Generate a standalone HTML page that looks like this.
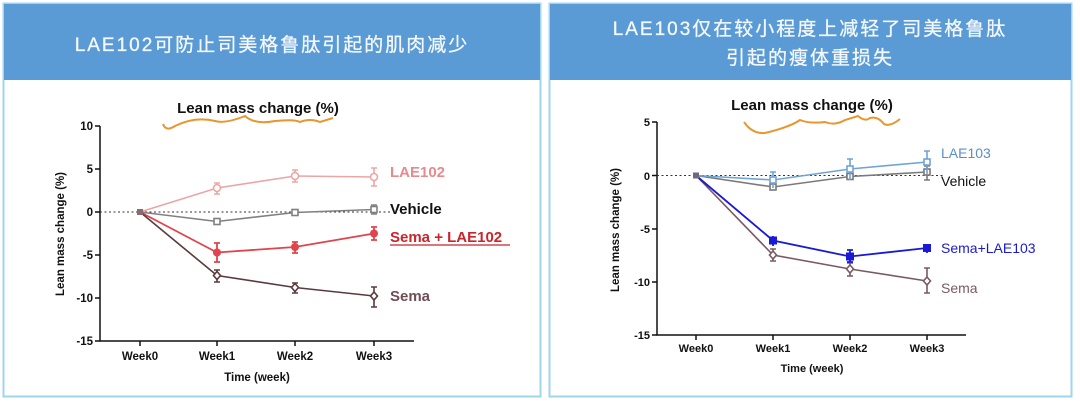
<!DOCTYPE html>
<html><head><meta charset="utf-8"><style>
html,body{margin:0;padding:0;background:#fff;}
svg{display:block;}
text{font-family:"Liberation Sans","Noto Sans CJK SC",sans-serif;}
</style></head><body>
<svg width="1080" height="414" viewBox="0 0 1080 414" xmlns="http://www.w3.org/2000/svg">
<rect width="1080" height="414" fill="#fff"/>
<!-- left panel -->
<rect x="3.5" y="3.5" width="537" height="393" fill="#fff" stroke="#9fd6ec" stroke-width="2"/>
<rect x="4" y="4" width="536" height="76" fill="#5b9bd5"/>
<text x="272" y="51" text-anchor="middle" font-size="19" fill="#f4f8fc" letter-spacing="2" stroke="#f4f8fc" stroke-width="0.3">LAE102可防止司美格鲁肽引起的肌肉减少</text>
<!-- right panel -->
<rect x="549.5" y="3.5" width="522" height="393" fill="#fff" stroke="#9fd6ec" stroke-width="2"/>
<rect x="550" y="4" width="521" height="76" fill="#5b9bd5"/>
<text x="810" y="35" text-anchor="middle" font-size="19" fill="#f4f8fc" letter-spacing="2" stroke="#f4f8fc" stroke-width="0.3">LAE103仅在较小程度上减轻了司美格鲁肽</text>
<text x="810" y="64" text-anchor="middle" font-size="19" fill="#f4f8fc" letter-spacing="2" stroke="#f4f8fc" stroke-width="0.3">引起的瘦体重损失</text>

<!-- LEFT CHART -->
<g>
<text x="258" y="113" text-anchor="middle" font-size="15" font-weight="bold" fill="#111">Lean mass change (%)</text>
<path d="M163 124 Q166 132 175 126 Q195 116 215 121 Q225 124 245 116 Q255 125 275 121 Q295 119 300 122 Q310 118 320 122 L333 118" fill="none" stroke="#e8962e" stroke-width="2"/>
<g stroke="#111" stroke-width="1.5" fill="none">
<path d="M100 126 V341 H414"/>
<path d="M95 126H100M95 169H100M95 212H100M95 255H100M95 298H100M95 341H100"/>
<path d="M140 341V346M217 341V346M295 341V346M374 341V346"/>
</g>
<g font-size="11.5" font-weight="bold" fill="#111" text-anchor="end">
<text x="93" y="130">10</text><text x="93" y="173">5</text><text x="93" y="216">0</text><text x="93" y="259">-5</text><text x="93" y="302">-10</text><text x="93" y="345">-15</text>
</g>
<g font-size="11.5" font-weight="bold" fill="#111" text-anchor="middle">
<text x="140" y="360">Week0</text><text x="217" y="360">Week1</text><text x="295" y="360">Week2</text><text x="374" y="360">Week3</text>
<text x="257" y="381">Time (week)</text>
</g>
<text transform="translate(64,234) rotate(-90)" text-anchor="middle" font-size="11.5" font-weight="bold" fill="#111">Lean mass change (%)</text>
<line x1="100" y1="212" x2="390" y2="212" stroke="#333" stroke-width="1" stroke-dasharray="2,2.5"/>
<!-- LAE102 -->
<g stroke="#eba5a5" stroke-width="1.6" fill="none">
<polyline points="140,212 217,188 295,176 374,177"/>
<path d="M217,183V194M214,183H220M214,194H220M295,170V182M292,170H298M292,182H298M374,168V186M371,168H377M371,186H377"/>
<circle cx="217" cy="188" r="3.5" fill="#fff"/><circle cx="295" cy="176" r="3.5" fill="#fff"/><circle cx="374" cy="177" r="3.5" fill="#fff"/>
</g>
<!-- Vehicle -->
<g stroke="#808080" stroke-width="1.6" fill="none">
<polyline points="140,212 217,221.5 295,212.5 374,209.5"/>
<path d="M374,205V214M371,205H377M371,214H377"/>
<rect x="214" y="218.5" width="6" height="6" fill="#fff"/><rect x="292" y="209.5" width="6" height="6" fill="#fff"/><rect x="371" y="206.5" width="6" height="6" fill="#fff"/>
</g>
<!-- Sema+LAE102 -->
<g stroke="#e0444c" stroke-width="1.8" fill="none">
<polyline points="140,212 217,252.5 295,247 374,233.5"/>
<path d="M217,243V262M214,243H220M214,262H220M295,242V253M292,242H298M292,253H298M374,227V240M371,227H377M371,240H377"/>
</g>
<g fill="#e0444c"><circle cx="217" cy="252.5" r="4"/><circle cx="295" cy="247" r="4"/><circle cx="374" cy="233.5" r="4"/></g>
<!-- Sema -->
<g stroke="#5a3a3e" stroke-width="1.6" fill="none">
<polyline points="140,212 217,275.5 295,287.5 374,296"/>
<path d="M217,270V282M214,270H220M214,282H220M295,283V293M292,283H298M292,293H298M374,287V307M371,287H377M371,307H377"/>
<path d="M217,271.5l3.5,4l-3.5,4l-3.5,-4z" fill="#fff"/><path d="M295,283.5l3.5,4l-3.5,4l-3.5,-4z" fill="#fff"/><path d="M374,292l3.5,4l-3.5,4l-3.5,-4z" fill="#fff"/>
</g>
<rect x="137" y="209" width="6" height="6" fill="#8a6b70"/>
<text x="390" y="177" font-size="15" font-weight="bold" fill="#e8898d">LAE102</text>
<text x="390" y="214" font-size="15" font-weight="bold" fill="#111">Vehicle</text>
<text x="390" y="242" font-size="15" font-weight="bold" fill="#c8252c">Sema + LAE102</text>
<line x1="390" y1="245" x2="510" y2="245" stroke="#c8252c" stroke-width="1.3"/>
<text x="390" y="301" font-size="15" font-weight="bold" fill="#6e4e54">Sema</text>
</g>

<!-- RIGHT CHART -->
<g>
<text x="812" y="110" text-anchor="middle" font-size="15" font-weight="bold" fill="#111">Lean mass change (%)</text>
<path d="M744 122 Q752 134 765 133 Q790 127 800 120 Q810 124 825 122 Q835 126 845 120 L858 116 Q865 122 870 118 Q878 116 884 124 Q890 127 900 119" fill="none" stroke="#e8962e" stroke-width="2"/>
<g stroke="#111" stroke-width="1.5" fill="none">
<path d="M657 122 V335 H966"/>
<path d="M652 122H657M652 175.5H657M652 229H657M652 282H657M652 335H657"/>
<path d="M696 335V340M773 335V340M850 335V340M927 335V340"/>
</g>
<g font-size="11" font-weight="bold" fill="#111" text-anchor="end">
<text x="650" y="126">5</text><text x="650" y="180">0</text><text x="650" y="233">-5</text><text x="650" y="286">-10</text><text x="650" y="339">-15</text>
</g>
<g font-size="11" font-weight="bold" fill="#111" text-anchor="middle">
<text x="696" y="352">Week0</text><text x="773" y="352">Week1</text><text x="850" y="352">Week2</text><text x="927" y="352">Week3</text>
<text x="812" y="372">Time (week)</text>
</g>
<text transform="translate(619,230) rotate(-90)" text-anchor="middle" font-size="11.5" font-weight="bold" fill="#111">Lean mass change (%)</text>
<line x1="657" y1="175.5" x2="945" y2="175.5" stroke="#333" stroke-width="1" stroke-dasharray="2,2.5"/>
<!-- Vehicle -->
<g stroke="#7a7a7a" stroke-width="1.6" fill="none">
<polyline points="696,175.5 773,187 850,176.5 927,172"/>
<path d="M927,166V180M924,166H930M924,180H930"/>
<rect x="770" y="184" width="6" height="6" fill="#fff"/><rect x="847" y="173.5" width="6" height="6" fill="#fff"/><rect x="924" y="169" width="6" height="6" fill="#fff"/>
</g>
<!-- LAE103 -->
<g stroke="#6fa4d6" stroke-width="1.6" fill="none">
<polyline points="696,175.5 773,180 850,169 927,162"/>
<path d="M773,172V188M770,172H776M850,159V180M847,159H853M927,151V174M924,151H930"/>
<rect x="770" y="177" width="6" height="6" fill="#fff"/><rect x="847" y="166" width="6" height="6" fill="#fff"/><rect x="924" y="159" width="6" height="6" fill="#fff"/>
</g>
<!-- Sema -->
<g stroke="#7a5a60" stroke-width="1.6" fill="none">
<polyline points="696,175.5 773,255 850,269 927,281"/>
<path d="M773,249V261M770,249H776M770,261H776M850,263V276M847,263H853M847,276H853M927,268V293M924,268H930M924,293H930"/>
<path d="M773,251l3.5,4l-3.5,4l-3.5,-4z" fill="#fff"/><path d="M850,265l3.5,4l-3.5,4l-3.5,-4z" fill="#fff"/><path d="M927,277l3.5,4l-3.5,4l-3.5,-4z" fill="#fff"/>
</g>
<!-- Sema+LAE103 -->
<g stroke="#1a1ad4" stroke-width="1.8" fill="none">
<polyline points="696,175.5 773,240.5 850,256.5 927,248"/>
<path d="M773,236V246M850,250V262M847,250H853M847,262H853M927,244V253"/>
</g>
<g fill="#1a1ad4"><rect x="769" y="236.5" width="8" height="8"/><rect x="846" y="252.5" width="8" height="8"/><rect x="923" y="244" width="8" height="8"/></g>
<rect x="693" y="172.5" width="6" height="6" fill="#6b6b7a"/>
<text x="941" y="158" font-size="14" fill="#5b8fc8">LAE103</text>
<text x="941" y="186" font-size="14" fill="#111">Vehicle</text>
<text x="941" y="253" font-size="14" fill="#1a1ad4">Sema+LAE103</text>
<text x="941" y="293" font-size="14" fill="#7a5a60">Sema</text>
</g>
</svg>
</body></html>
